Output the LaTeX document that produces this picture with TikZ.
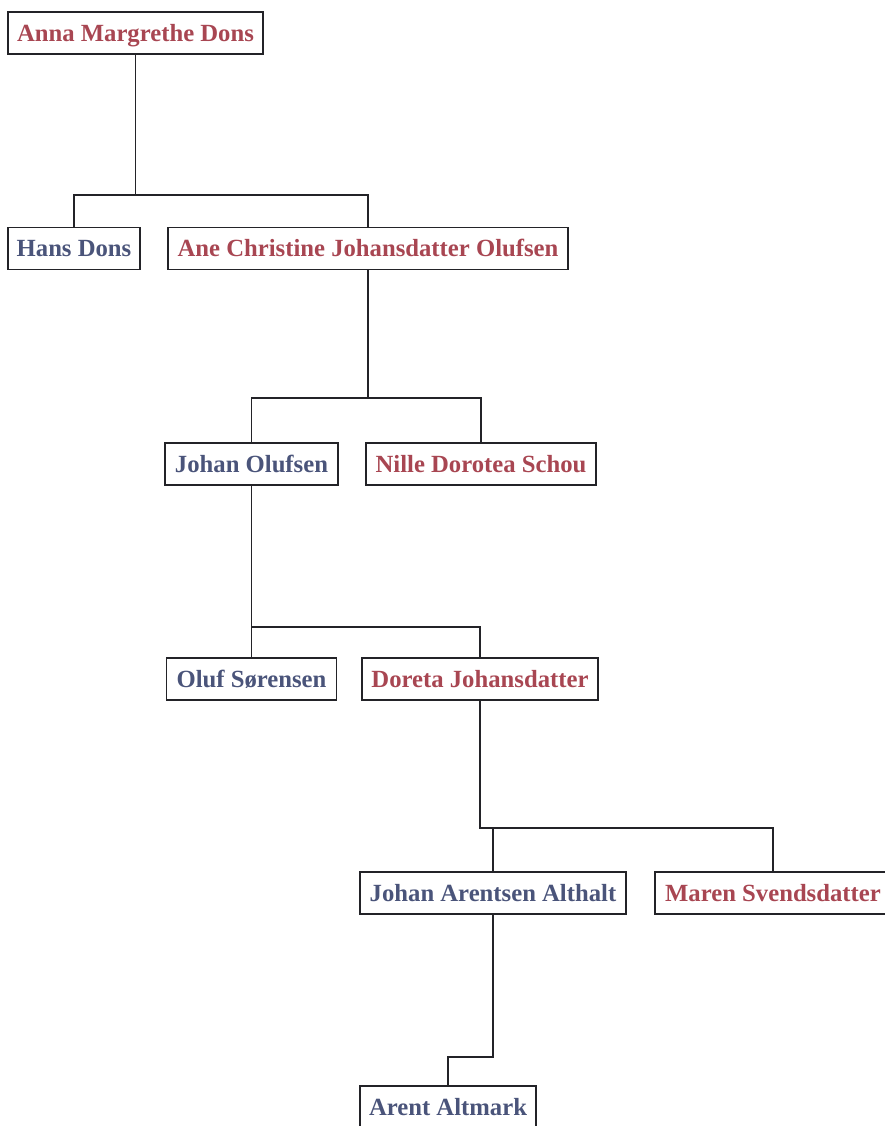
\documentclass[tikz,border=0pt]{standalone}
\usepackage{fontspec}
\setmainfont{Liberation Serif}
\definecolor{femred}{RGB}{168,70,82}
\definecolor{maleblue}{RGB}{74,84,122}
\definecolor{edgegray}{RGB}{35,35,40}
\begin{document}
\begin{tikzpicture}[x=1pt,y=-1pt,
  person/.style={draw=edgegray, line width=1.3pt, inner sep=0pt, minimum height=42pt,
    font=\bfseries\fontsize{24.7}{28}\selectfont, text height=16.4pt, text depth=0pt},
  fem/.style={person, text=femred},
  male/.style={person, text=maleblue},
  link/.style={draw=edgegray, line width=1.3pt}]
\useasboundingbox (0,0) rectangle (885,1126);

\node[fem,  minimum width=255pt] (anna)   at (135.5,33)  {Anna Margrethe Dons};
\node[male, minimum width=132pt] (hans)   at (74,248.5)  {Hans Dons};
\node[fem,  minimum width=400pt] (ane)    at (368,248.5) {Ane Christine Johansdatter Olufsen};
\node[male, minimum width=173pt] (johano) at (251.5,464) {Johan Olufsen};
\node[fem,  minimum width=230pt] (nille)  at (481,464)   {Nille Dorotea Schou};
\node[male, minimum width=170pt] (oluf)   at (251.5,679) {Oluf Sørensen};
\node[fem,  minimum width=236pt] (doreta) at (480,679)   {Doreta Johansdatter};
\node[male, minimum width=266pt] (johana) at (493,893)   {Johan Arentsen Althalt};
\node[fem,  minimum width=236pt] (maren)  at (773,893)   {Maren Svendsdatter};
\node[male, minimum width=176pt] (arent)  at (448,1107)  {Arent Altmark};

\coordinate (b1) at (135.5,195);
\coordinate (b2) at (368,398);
\coordinate (b3) at (251.5,627);
\coordinate (b4) at (480,828);
\coordinate (b5) at (493,1057);

\draw[link] (anna) -- (b1);
\draw[link] (hans) |- (b1) -| (ane);
\draw[link] (ane) -- (b2);
\draw[link] (johano) |- (b2) -| (nille);
\draw[link] (johano) -- (b3);
\draw[link] (oluf) |- (b3) -| (doreta);
\draw[link] (doreta) |- (maren |- b4) -- (maren);
\draw[link] (johana) -- (johana |- b4);
\draw[link] (johana) -- (b5) -| (arent);
\end{tikzpicture}
\end{document}
